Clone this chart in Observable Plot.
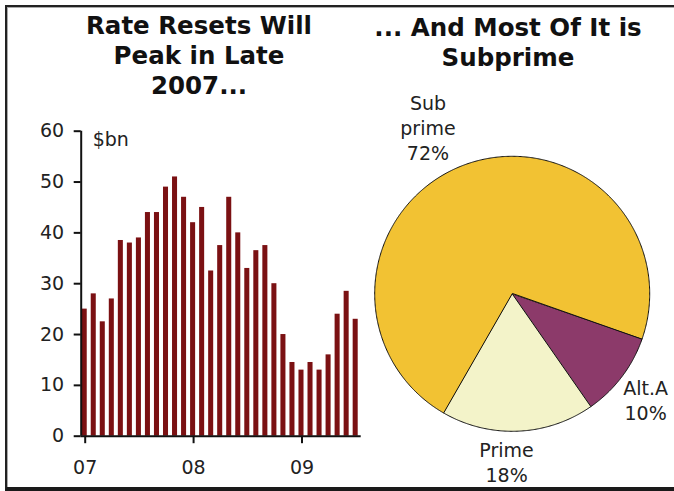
<!DOCTYPE html>
<html>
<head>
<meta charset="utf-8">
<script src="https://cdn.jsdelivr.net/npm/d3@7"></script>
<script src="https://cdn.jsdelivr.net/npm/@observablehq/plot@0.6"></script>
<style>
  html, body { margin: 0; padding: 0; background: #fff; }
  body { width: 674px; height: 491px; position: relative; overflow: hidden; font-family: "DejaVu Sans", Verdana, sans-serif; }
  #frame { position: absolute; left: 5px; top: 5px; width: 720px; height: 480px;
           border-top: 2px solid #222; border-left: 2px solid #222; border-bottom: 4px solid #1a1a1a;
           box-shadow: inset 1px 1px 0 #aaa; }
  .title { position: absolute; font-weight: bold; font-size: 24.5px; line-height: 30px; text-align: center; color: #111; }
  #t1 { left: 69px; width: 260px; top: 11px; }
  #t2 { left: 368px; width: 280px; top: 13px; }
  #bars { position: absolute; left: 0; top: 100px; }
  #pie { position: absolute; left: 370px; top: 80px; }
</style>
</head>
<body>
<div id="frame"></div>
<div class="title" id="t1">Rate Resets Will<br>Peak in Late<br>2007...</div>
<div class="title" id="t2">... And Most Of It is<br>Subprime</div>
<div id="bars"></div>
<div id="pie"></div>
<script>
// ---- Data ----
const months = [
  "2007-01","2007-02","2007-03","2007-04","2007-05","2007-06","2007-07","2007-08","2007-09","2007-10","2007-11","2007-12",
  "2008-01","2008-02","2008-03","2008-04","2008-05","2008-06","2008-07","2008-08","2008-09","2008-10","2008-11","2008-12",
  "2009-01","2009-02","2009-03","2009-04","2009-05","2009-06","2009-07"
];
const resets = [25, 28, 22.5, 27, 38.5, 38, 39, 44, 44, 49, 51, 47,
                42, 45, 32.5, 37.5, 47, 40, 33, 36.5, 37.5, 30, 20, 14.5,
                13, 14.5, 13, 16, 24, 28.5, 23];
const yTicks = [0, 10, 20, 30, 40, 50, 60];
const xTickYears = [2007, 2008, 2009];
const xTickLabels = ["07", "08", "09"];
const unitLabel = "$bn";

const segments = ["Alt.A", "Prime", "Sub\nprime"];
const shares = [10, 18, 72];
const segmentColors = ["#8C3A6A", "#F3F3C9", "#F2C233"];

// ---- Bar chart ----
const barData = months.map((m, i) => {
  const [y, mo] = m.split("-").map(Number);
  const t = y + (mo - 1) / 12;
  return { t0: t, t1: t + 1 / 12, value: resets[i] };
});
const xEnd = barData[barData.length - 1].t1;

const bars = Plot.plot({
  width: 380, height: 380,
  marginLeft: 80.7, marginRight: 380 - 80.7 - 280, marginTop: 30.7, marginBottom: 44.3,
  style: { fontFamily: "DejaVu Sans, Verdana, sans-serif", fontSize: "19px", color: "#222", background: "transparent" },
  x: { type: "linear", domain: [2007, xEnd] },
  y: { domain: [0, 60] },
  marks: [
    Plot.rectY(barData, { x1: "t0", x2: "t1", y: "value", fill: "#7B1113", insetLeft: 1, insetRight: 3 }),
    Plot.ruleY([0], { stroke: "#111", strokeWidth: 2 }),
    Plot.ruleX([2007], { y1: 0, y2: 60, stroke: "#111", strokeWidth: 2 }),
    Plot.axisY({ ticks: yTicks, tickSize: 7, tickPadding: 10, strokeWidth: 2, stroke: "#111", fontSize: 19, label: null, fill: "#222" }),
    Plot.axisX({ ticks: xTickYears, tickFormat: d => xTickLabels[xTickYears.indexOf(d)], tickSize: 7.5, tickPadding: 16.5, dx: 4,
                 strokeWidth: 2, stroke: "#111", fontSize: 19, label: null, fill: "#222" }),
    Plot.text([unitLabel], { frameAnchor: "top-left", dx: 11.5, dy: 1, fontSize: 19, fill: "#222" })
  ]
});
document.getElementById("bars").appendChild(bars);

// ---- Pie chart ----
const pieIn = segments.map((s, i) => ({ name: s, share: shares[i], color: segmentColors[i] }));
const startAngle = 109.1 * Math.PI / 180;
const arcs = d3.pie().sort(null).value(d => d.share).startAngle(startAngle).endAngle(startAngle + 2 * Math.PI)(pieIn);

const features = arcs.map(a => {
  const pts = [[0, 0]];
  const n = Math.max(2, Math.ceil((a.endAngle - a.startAngle) / (Math.PI / 360)));
  for (let k = 0; k <= n; k++) {
    const ang = a.startAngle + (a.endAngle - a.startAngle) * k / n;
    pts.push([Math.sin(ang), Math.cos(ang)]);
  }
  pts.push([0, 0]);
  return { type: "Feature", properties: a.data, geometry: { type: "Polygon", coordinates: [pts] } };
});

const labelR = 1.23;
const nudges = { "Alt.A": [-1.5, 4], "Prime": [-13, -1], "Sub\nprime": [-25, -8.5] };
const labels = arcs.map(a => {
  const mid = (a.startAngle + a.endAngle) / 2;
  return { x: labelR * Math.sin(mid), y: labelR * Math.cos(mid), text: `${a.data.name}\n${a.data.share}%`, name: a.data.name };
});

// SVG box (304 x 411) expressed in pie-radius units: pie centre sits at (141.7, 213.3), radius 137.5 px
const pieW = 304, pieH = 411, cx = 141.7, cy = 213.3, R = 137.5;
const pieExtent = { type: "MultiPoint", coordinates: [[-cx / R, -(pieH - cy) / R], [(pieW - cx) / R, cy / R]] };
const pie = Plot.plot({
  width: pieW, height: pieH,
  margin: 0,
  style: { fontFamily: "DejaVu Sans, Verdana, sans-serif", fontSize: "19px", color: "#222", background: "transparent", overflow: "visible" },
  projection: { type: "reflect-y", domain: pieExtent },
  marks: [
    Plot.geo(features, { fill: d => d.properties.color, stroke: "#111", strokeWidth: 1 }),
    ...labels.map(l => Plot.text([l], { x: "x", y: "y", text: "text", fontSize: 19, lineHeight: 25 / 19,
                                        fill: "#222", textAnchor: "middle", dx: nudges[l.name][0], dy: nudges[l.name][1] }))
  ]
});
document.getElementById("pie").appendChild(pie);
</script>
</body>
</html>
